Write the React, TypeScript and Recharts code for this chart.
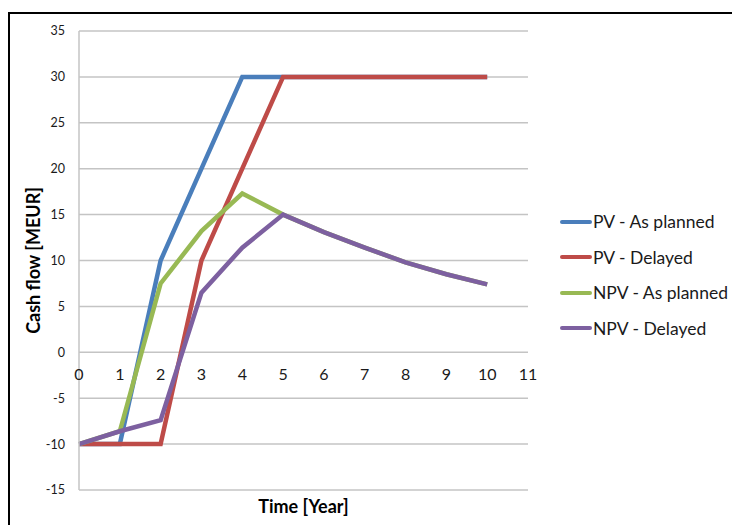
import { CartesianGrid, Legend, Line, LineChart, ReferenceDot, XAxis, YAxis } from "recharts";

// Cash flow per year for the two schedules, present value and discounted value
const years = [0, 1, 2, 3, 4, 5, 6, 7, 8, 9, 10];
const pvPlanned = [-10, -10, 10, 20, 30, 30, 30, 30, 30, 30, 30];
const pvDelayed = [-10, -10, -10, 10, 20, 30, 30, 30, 30, 30, 30];
const npvPlanned = [-10, -8.6, 7.5, 13.2, 17.3, 15, 13.1, 11.4, 9.8, 8.5, 7.4];
const npvDelayed = [-10, -8.6, -7.4, 6.5, 11.4, 15, 13.1, 11.4, 9.8, 8.5, 7.4];

const xTicks = [0, 1, 2, 3, 4, 5, 6, 7, 8, 9, 10, 11];
const yTicks = [-15, -10, -5, 0, 5, 10, 15, 20, 25, 30, 35];

const series = [
  { key: "pvPlanned", name: "PV - As planned", color: "#4a7ebb" },
  { key: "pvDelayed", name: "PV - Delayed", color: "#be4b48" },
  { key: "npvPlanned", name: "NPV - As planned", color: "#98b954" },
  { key: "npvDelayed", name: "NPV - Delayed", color: "#7d60a0" },
];

const data = years.map((year, i) => ({
  year,
  pvPlanned: pvPlanned[i],
  pvDelayed: pvDelayed[i],
  npvPlanned: npvPlanned[i],
  npvDelayed: npvDelayed[i],
}));

const font = "Lato, 'Open Sans', sans-serif";

function LegendBox() {
  return (
    <div style={{ fontFamily: font }}>
      {series.map((s) => (
        <div
          key={s.key}
          style={{ display: "flex", alignItems: "center", height: 35.5 }}
        >
          <span
            style={{
              display: "inline-block",
              width: 32,
              height: 4,
              borderRadius: 2,
              background: s.color,
            }}
          />
          <span style={{ fontSize: 17.5, color: "#1a1a1a", marginLeft: 1 }}>
            {s.name}
          </span>
        </div>
      ))}
    </div>
  );
}

function YTitle(props: any) {
  const { viewBox } = props;
  const cx = 33;
  const cy = viewBox.y + viewBox.height / 2;
  return (
    <text
      x={cx}
      y={cy}
      transform={`rotate(-90, ${cx}, ${cy})`}
      textAnchor="middle"
      dominantBaseline="central"
      fontFamily={font}
      fontWeight="bold"
      fontSize={18}
      fill="#000"
    >
      Cash flow [MEUR]
    </text>
  );
}

export default function App() {
  return (
    <div
      style={{
        position: "absolute",
        left: 0,
        top: 0,
        width: 732,
        height: 525,
        background: "#fff",
        overflow: "hidden",
      }}
    >
      <div
        style={{
          position: "absolute",
          left: 8,
          top: 12,
          width: 740,
          height: 540,
          borderTop: "2px solid #000",
          borderLeft: "2px solid #000",
        }}
      />
      <div style={{ position: "absolute", left: 0, top: 0 }}>
        <LineChart
          width={732}
          height={525}
          data={data}
          margin={{ top: 31, right: 204, bottom: 0, left: 19 }}
        >
          <CartesianGrid
            vertical={false}
            stroke="#c4c4c4"
            strokeWidth={1.5}
          />
          <XAxis
            dataKey="year"
            type="number"
            domain={[0, 11]}
            ticks={xTicks}
            height={35}
            tick={false}
            tickLine={false}
            axisLine={false}
            label={{
              value: "Time [Year]",
              position: "insideBottom",
              offset: 12,
              fontFamily: font,
              fontWeight: "bold",
              fontSize: 18,
              fill: "#000",
            }}
          />
          <YAxis
            type="number"
            domain={[-15, 35]}
            ticks={yTicks}
            width={60}
            tickLine={false}
            tickSize={6}
            tickMargin={8}
            axisLine={{ stroke: "#c4c4c4", strokeWidth: 1.5 }}
            tick={{ fontFamily: font, fontSize: 12.5, fill: "#1a1a1a" }}
            label={<YTitle />}
            interval={0}
          />
          {xTicks.map((t) => (
            <ReferenceDot
              key={t}
              x={t}
              y={0}
              r={0}
              fill="none"
              stroke="none"
              label={{
                value: String(t),
                position: "bottom",
                offset: 16,
                fontFamily: font,
                fontSize: 16,
                fill: "#1a1a1a",
              }}
            />
          ))}
          {series.map((s) => (
            <Line
              key={s.key}
              dataKey={s.key}
              name={s.name}
              type="linear"
              stroke={s.color}
              strokeWidth={4.5}
              dot={false}
              activeDot={false}
              isAnimationActive={false}
            />
          ))}
          <Legend
            layout="horizontal"
            verticalAlign="middle"
            align="center"
            content={<LegendBox />}
            wrapperStyle={{ left: 560, top: 204, width: 172 }}
          />
        </LineChart>
      </div>
    </div>
  );
}
